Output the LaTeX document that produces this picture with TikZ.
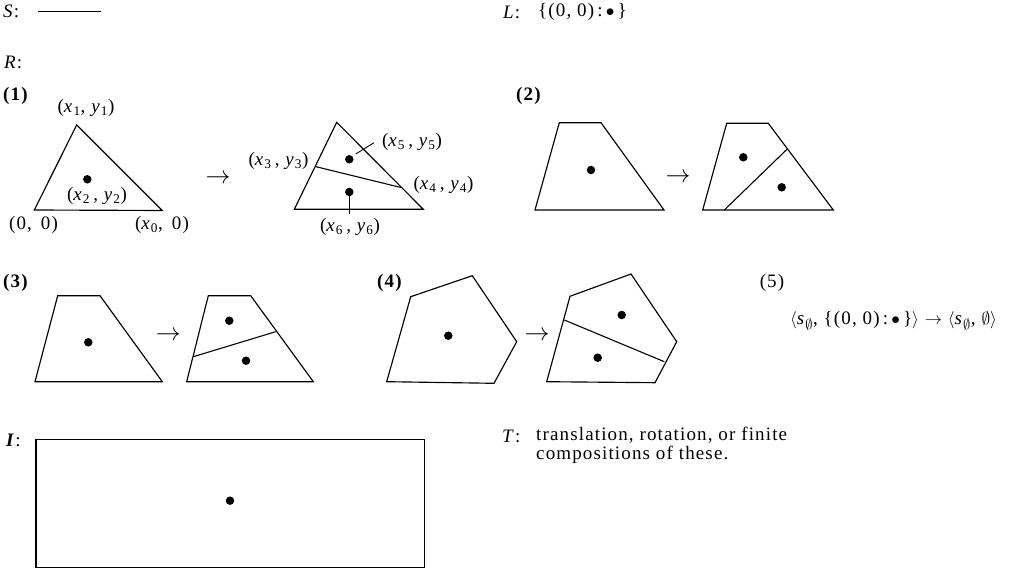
\documentclass[tikz,border=0pt]{standalone}
\usepackage{fontspec}
\setmainfont{Liberation Serif}[LetterSpace=6]
\begin{document}
\begin{tikzpicture}[x=1pt,y=-1pt,
  every node/.style={font=\fontsize{19}{20}\selectfont, inner sep=0pt},
  outl/.style={line width=1.15pt, line join=miter},
  divline/.style={line width=1.1pt},
  leader/.style={line width=0.9pt},
  pt/.style={circle, fill=black, minimum size=8.5pt, inner sep=0pt},
  lbl/.style={font=\fontsize{19}{20}\selectfont\bfseries},
  arr/.style={font=\fontsize{23}{24}\selectfont}]
\useasboundingbox (0,0) rectangle (1012,569);
% --- S and L ---
\node[anchor=west] (S) at (3,11) {\textit{S}:};
\coordinate (s1) at (38,11);
\coordinate (s2) at (101,11);
\draw[line width=0.9pt] (s1) -- (s2);
\node[anchor=west] (L) at (503,12) {\textit{L}:};
\node[anchor=west] (Lset) at (538,12) {\{(0, 0)\,:\,$\bullet$\,\}};
\node[anchor=west] (R) at (4,62) {\textit{R}:};
% --- (1) ---
\node[lbl,anchor=west] (n1) at (3,96) {(1)};
\draw[outl] (34.3,210) -- (76.7,125) -- (162.3,210.5) -- cycle;
\node[pt] (d1) at (87.3,179.3) {};
\node (x1) at (86,108) {(\textit{x}\textsubscript{1}, \textit{y}\textsubscript{1})};
\node (x2) at (97,196) {(\textit{x}\textsubscript{2}\,, \textit{y}\textsubscript{2})};
\node (o) at (33.5,225) {(0, \,0)};
\node (x0) at (162,225) {(\textit{x}\textsubscript{0}, \,0)};
\node[arr] (a1) at (218,179) {$\rightarrow$};
\draw[outl] (294.3,209.3) -- (336.7,122.3) -- (423.3,209.3) -- cycle;
\draw[divline] (316,166.7) -- (401.7,187.7);
\node[pt] (d5) at (349.3,159.3) {};
\node[pt] (d6) at (349.3,192) {};
\node (x5) at (412,142) {(\textit{x}\textsubscript{5}\,, \textit{y}\textsubscript{5})};
\node (x3) at (278.5,161) {(\textit{x}\textsubscript{3}\,, \textit{y}\textsubscript{3})};
\node (x4) at (443.5,185) {(\textit{x}\textsubscript{4}\,, \textit{y}\textsubscript{4})};
\node (x6) at (350,227) {(\textit{x}\textsubscript{6}\,, \textit{y}\textsubscript{6})};
\coordinate (l5) at (355.7,154);
\coordinate (l5e) at (374,142.7);
\draw[leader] (l5) -- (l5e);
\coordinate (l6) at (349.3,196.5);
\coordinate (l6e) at (349.3,214);
\draw[leader] (l6) -- (l6e);
% --- (2) ---
\node[lbl,anchor=west] (n2) at (516,96) {(2)};
\draw[outl] (535,210) -- (559.3,122.7) -- (601,122.7) -- (664,210) -- cycle;
\node[pt] (d2) at (591,170) {};
\node[arr] (a2) at (678,178) {$\rightarrow$};
\draw[outl] (702.7,210) -- (726.7,123.3) -- (768.3,123.3) -- (833.3,210) -- cycle;
\draw[divline] (787.3,149) -- (724.3,210);
\node[pt] (d2a) at (743.3,157.3) {};
\node[pt] (d2b) at (781.7,187.3) {};
% --- (3) ---
\node[lbl,anchor=west] (n3) at (3,283) {(3)};
\draw[outl] (35,381.7) -- (57.7,295.7) -- (100,295.7) -- (162.3,381.7) -- cycle;
\node[pt] (d3) at (88.3,342.3) {};
\node[arr] (a3) at (168.3,336) {$\rightarrow$};
\draw[outl] (186.7,381.7) -- (208.3,295.7) -- (250.7,295.7) -- (313.3,381.7) -- cycle;
\draw[divline] (193.3,356.7) -- (275.7,331.7);
\node[pt] (d3a) at (229.3,320.7) {};
\node[pt] (d3b) at (246,360.7) {};
% --- (4) ---
\node[lbl,anchor=west] (n4) at (377,283) {(4)};
\draw[outl] (386.7,381.7) -- (410.7,296.7) -- (472.3,275.7) -- (516.7,341.7) -- (494,383.3) -- cycle;
\node[pt] (d4) at (448.3,335.7) {};
\node[arr] (a4) at (537,336) {$\rightarrow$};
\draw[outl] (546.7,381.7) -- (570,296.3) -- (631,274) -- (676.7,341.7) -- (655,382.7) -- cycle;
\draw[divline] (564.3,320) -- (664.3,361.7);
\node[pt] (d4a) at (621.7,315) {};
\node[pt] (d4b) at (597.7,357.7) {};
% --- (5) ---
\node (n5) at (772,283) {(5)};
\node (f5) at (893.5,321) {$\langle$\textit{s}$_{\emptyset}$, \{(0, 0)\,:\,$\bullet$\,\}$\rangle$\ $\rightarrow$\ $\langle$\textit{s}$_{\emptyset}$, $\emptyset\rangle$};
% --- I ---
\node[anchor=west] (I) at (6,440) {\textit{\textbf{I}}:};
\draw[outl] (36,439.3) rectangle (424.3,567.5);
\node[pt] (dI) at (230,500.7) {};
% --- T ---
\node[anchor=west] (T) at (502,436) {\textit{T}:};
\node[anchor=north west, align=left, font=\fontsize{19}{19}\selectfont] (Ttext) at (536,426.5) {translation, rotation, or finite\\compositions of these.};
\end{tikzpicture}
\end{document}
